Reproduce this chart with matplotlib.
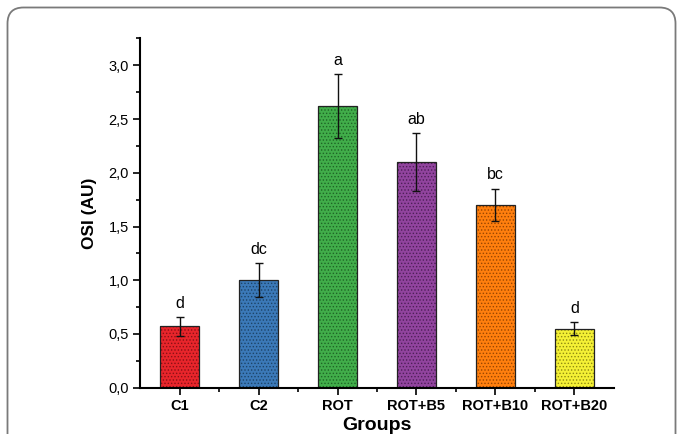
import numpy as np
import matplotlib.pyplot as plt
from matplotlib.patches import FancyBboxPatch
from matplotlib.ticker import MultipleLocator, FixedLocator

plt.rcParams['font.family'] = ['Liberation Sans', 'DejaVu Sans']
plt.rcParams['hatch.linewidth'] = 0.6

# data
groups = ['C1', 'C2', 'ROT', 'ROT+B5', 'ROT+B10', 'ROT+B20']
osi = [0.57, 1.00, 2.62, 2.10, 1.70, 0.55]
err = [0.085, 0.16, 0.30, 0.27, 0.15, 0.06]
letters = ['d', 'dc', 'a', 'ab', 'bc', 'd']
colors = ['#e8252b', '#3b79b8', '#41ad4a', '#91449e', '#ff7f0e', '#f4f035']
dots = ['#8a1015', '#1d4468', '#1e6626', '#4e1e58', '#9a4500', '#8f8a10']

fig = plt.figure(figsize=(6.81, 4.34), dpi=100)
ax = fig.add_axes([0.2056, 0.1067, 0.696, 0.8046])

x = np.arange(1, len(groups) + 1)
ax.bar(x, osi, width=0.5, color=colors, edgecolor=dots, hatch='.....', linewidth=0)
ax.bar(x, osi, width=0.5, fill=False, edgecolor='#222222', linewidth=0.9)
ax.errorbar(x, osi, yerr=err, fmt='none', ecolor='#111111', elinewidth=1,
            capsize=3, capthick=1)

#letters over the error bars
for xi, v, e, t in zip(x, osi, err, letters):
    ax.text(xi, v + e + 0.06, t, ha='center', va='bottom', fontsize=11.5)

ax.set_xlim(0.5, 6.5)
ax.set_ylim(0, 3.25)
ax.set_xticks(x)
ax.set_xticklabels(groups, fontweight='bold', fontsize=10.5)
ax.xaxis.set_minor_locator(FixedLocator(np.arange(1.5, 6.5, 1)))
ax.yaxis.set_major_locator(MultipleLocator(0.5))
ax.yaxis.set_minor_locator(MultipleLocator(0.25))
ax.set_yticks(np.arange(0, 3.01, 0.5))
ax.set_yticklabels([f'{v:.1f}'.replace('.', ',') for v in np.arange(0, 3.01, 0.5)],
                   fontsize=10.5)
ax.tick_params(which='major', length=5, width=1.2, direction='out', pad=3)
ax.tick_params(which='minor', length=3, width=1.2, direction='out')

for s in ['top', 'right']:
    ax.spines[s].set_visible(False)
for s in ['left', 'bottom']:
    ax.spines[s].set_linewidth(1.5)

ax.set_ylabel('OSI (AU)', fontweight='bold', fontsize=12.5, labelpad=8)
ax.set_xlabel('Groups', fontweight='bold', fontsize=14, labelpad=3)

#frame around the figure
frame = FancyBboxPatch((7.5, -60), 668, 434 - 7.5 + 60,
                       boxstyle='round,pad=0,rounding_size=16',
                       transform=None, fill=False, edgecolor='#7a7a7a',
                       linewidth=1.3)
fig.patches.append(frame)

fig.savefig('out.png', dpi=100)
